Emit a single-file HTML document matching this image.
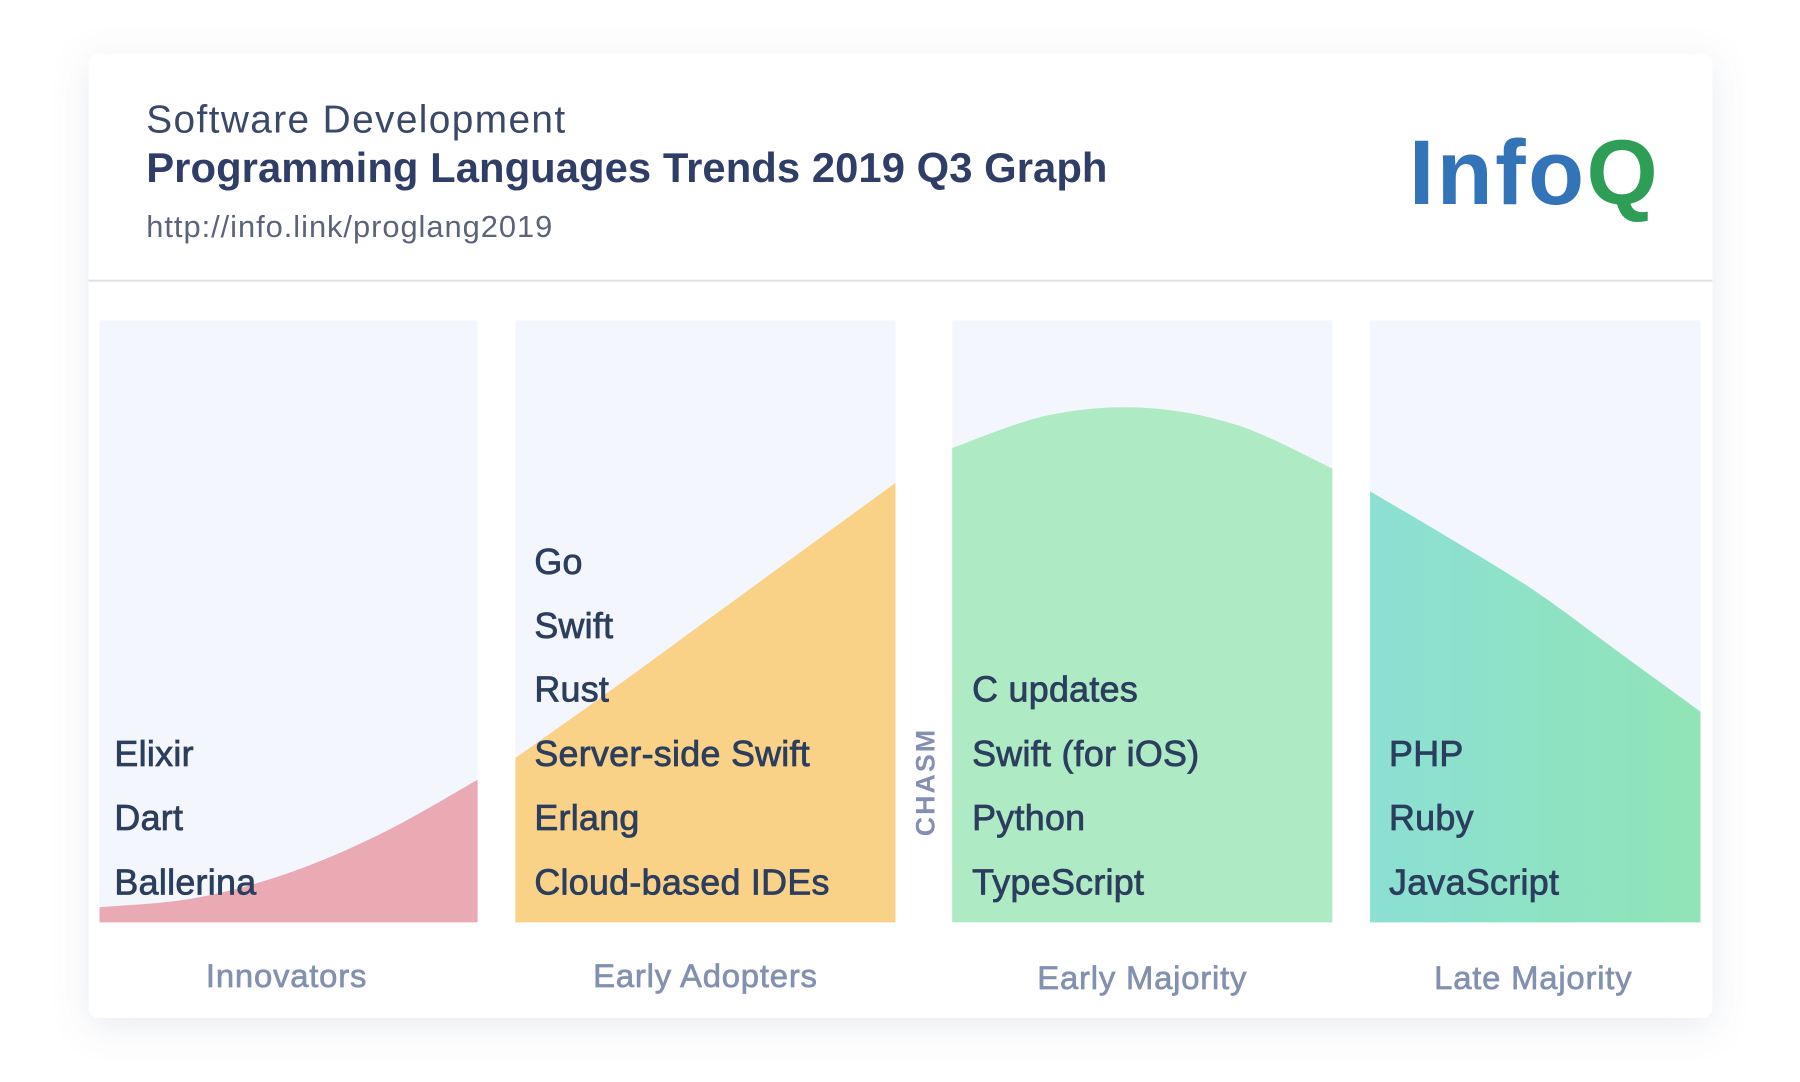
<!DOCTYPE html>
<html><head><meta charset="utf-8"><style>
html,body{margin:0;padding:0;background:#fff;}
svg{display:block;font-family:"Liberation Sans",sans-serif;}
</style></head><body>
<svg width="1800" height="1082" viewBox="0 0 1800 1082">
<defs>
<filter id="sh" x="-5%" y="-5%" width="110%" height="115%"><feDropShadow dx="0" dy="8" stdDeviation="18" flood-color="#7080a0" flood-opacity="0.16"/></filter>
<linearGradient id="lateG" x1="0" x2="1" y1="0" y2="0"><stop offset="0" stop-color="#8ce0d4"/><stop offset="1" stop-color="#90e4b6"/></linearGradient>
</defs>
<g transform="scale(0.995)">
<rect x="89" y="54" width="1632" height="969" rx="10" fill="#fff" filter="url(#sh)"/>
<text x="147" y="133" font-size="39" fill="#3a4869" textLength="421">Software Development</text>
<text x="147" y="183" font-size="42" font-weight="bold" fill="#2f3e67" textLength="966">Programming Languages Trends 2019 Q3 Graph</text>
<text x="147" y="238" font-size="31" fill="#5b6478" textLength="408">http://info.link/proglang2019</text>
<text x="1416" y="205" font-size="92" font-weight="bold" textLength="250"><tspan fill="#3373b8">Info</tspan><tspan fill="#2e9e57">Q</tspan></text>
<line x1="89" y1="282" x2="1721" y2="282" stroke="#dfe1e6" stroke-width="2"/>
<g id="panels"></g>
<text transform="translate(939,786) rotate(-90)" text-anchor="middle" font-size="27" font-weight="bold" fill="#8390b2" letter-spacing="2">CHASM</text>
</g>
</svg>
<script>
const categories = ["Innovators","Early Adopters","Early Majority","Late Majority"];
// curve heights as % of panel height at t = 0, .25, .5, .75, 1
const innovatorsCurve = [2.5, 4, 8.2, 14.9, 23.7];
const earlyAdoptersCurve = [27.3, 38.5, 50, 61.5, 73];
const earlyMajorityCurve = [78.8, 84.2, 85.5, 82.6, 75.4];
const lateMajorityCurve = [71.6, 63.5, 55, 45, 35];
const innovatorsLangs = ["Elixir","Dart","Ballerina"];
const earlyAdoptersLangs = ["Go","Swift","Rust","Server-side Swift","Erlang","Cloud-based IDEs"];
const earlyMajorityLangs = ["C updates","Swift (for iOS)","Python","TypeScript"];
const lateMajorityLangs = ["PHP","Ruby","JavaScript"];

const NS="http://www.w3.org/2000/svg";
const panelG=document.getElementById('panels');
const pTop=322, pBot=927, pH=pBot-pTop;
const panels=[
 {x0:100,x1:480,curve:innovatorsCurve,langs:innovatorsLangs,fill:"#e9aab3",lx:115,cx:288,cy:981},
 {x0:518,x1:900,curve:earlyAdoptersCurve,langs:earlyAdoptersLangs,fill:"#fad287",lx:537,cx:709,cy:981},
 {x0:957,x1:1339,curve:earlyMajorityCurve,langs:earlyMajorityLangs,fill:"#aeebc5",lx:977,cx:1148,cy:983},
 {x0:1377,x1:1709,curve:lateMajorityCurve,langs:lateMajorityLangs,fill:"url(#lateG)",lx:1396,cx:1541,cy:983}
];
const rowY=[564,628,692,757,821,886];
function yScale(v){return pBot-v/100*pH;}
panels.forEach((p,i)=>{
  const bg=document.createElementNS(NS,'rect');
  bg.setAttribute('x',p.x0);bg.setAttribute('y',pTop);bg.setAttribute('width',p.x1-p.x0);bg.setAttribute('height',pH);bg.setAttribute('fill','#f3f6fd');
  
  
  panelG.appendChild(bg);
  const n=p.curve.length;
  const pts=p.curve.map((v,k)=>[p.x0+(p.x1-p.x0)*k/(n-1),yScale(v)]);
  let d=`M${p.x0},${pBot} L${pts[0][0]},${pts[0][1]}`;
  for(let k=0;k<n-1;k++){
    const p0=pts[Math.max(0,k-1)],p1=pts[k],p2=pts[k+1],p3=pts[Math.min(n-1,k+2)];
    const c1=[p1[0]+(p2[0]-p0[0])/6,p1[1]+(p2[1]-p0[1])/6];
    const c2=[p2[0]-(p3[0]-p1[0])/6,p2[1]-(p3[1]-p1[1])/6];
    d+=` C${c1[0]},${c1[1]} ${c2[0]},${c2[1]} ${p2[0]},${p2[1]}`;
  }
  d+=` L${p.x1},${pBot} Z`;
  const path=document.createElementNS(NS,'path');
  path.setAttribute('d',d);path.setAttribute('fill',p.fill);
  
  
  panelG.appendChild(path);
  const start=rowY.length-p.langs.length;
  p.langs.forEach((l,j)=>{
    const t=document.createElementNS(NS,'text');
    t.setAttribute('x',p.lx);t.setAttribute('y',rowY[start+j]+13);
    t.setAttribute('font-size','36');t.setAttribute('fill','#2c3e5e');
    t.setAttribute('stroke','#2c3e5e');t.setAttribute('stroke-width','0.8');
    t.setAttribute('letter-spacing','0.3');
    t.textContent=l;
    
    
    panelG.appendChild(t);
  });
  const c=document.createElementNS(NS,'text');
  c.setAttribute('x',p.cx);c.setAttribute('y',p.cy+11);c.setAttribute('text-anchor','middle');
  c.setAttribute('font-size','33');c.setAttribute('fill','#8391b0');
  c.setAttribute('stroke','#8391b0');c.setAttribute('stroke-width','0.7');
  c.setAttribute('letter-spacing','0.8');
  c.textContent=categories[i];
  
  
  panelG.appendChild(c);
});
</script>
</body></html>
